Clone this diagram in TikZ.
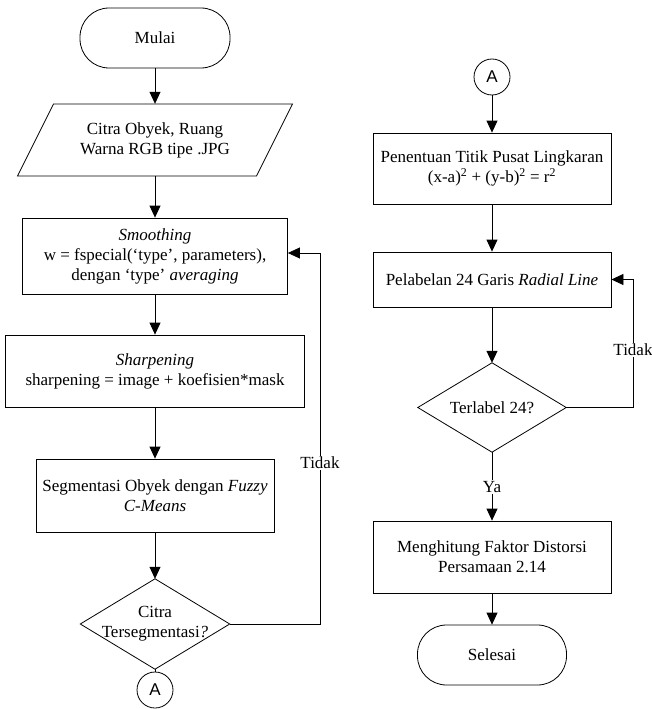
\documentclass[tikz,border=0pt]{standalone}
\usepackage{fontspec}
\setmainfont{Liberation Serif}
\newfontfamily\arialfont{Liberation Sans}
\usetikzlibrary{arrows.meta}
\begin{document}
\begin{tikzpicture}[x=1pt,y=-1pt,
  every node/.style={font=\fontsize{17}{20}\selectfont, align=center, inner sep=0pt},
  ln/.style={line width=0.8pt},
  arr/.style={line width=0.8pt, -{Triangle[length=12pt,width=11pt]}},
  box/.style={draw, line width=0.8pt},
  term/.style={draw, line width=0.8pt, rounded corners=29pt, minimum width=150pt, minimum height=60pt},
  conn/.style={draw, line width=0.8pt, circle, minimum size=36pt, font=\arialfont\fontsize{17}{20}\selectfont},
  lbl/.style={fill=white, inner sep=1.5pt}]
\useasboundingbox (0,0) rectangle (652,709);

% left column
\node[term] (start) at (155,38) {Mulai};
\node[minimum width=239pt, minimum height=72pt] (input) at (155,140) {Citra Obyek, Ruang\\Warna RGB tipe .JPG};
\draw[ln] (53.5,104) -- (292.5,104) -- (256.5,176) -- (17.5,176) -- cycle;
\node[box, minimum width=265pt, minimum height=76pt] (smooth) at (155,256) {\textit{Smoothing}\\w = fspecial(‘type’, parameters),\\dengan ‘type’ \textit{averaging}};
\node[box, minimum width=299pt, minimum height=72pt] (sharp) at (155,371) {\textit{Sharpening}\\sharpening = image + koefisien*mask};
\node[box, minimum width=238pt, minimum height=73pt] (seg) at (155,495.5) {Segmentasi Obyek dengan \textit{Fuzzy}\\\textit{C-Means}};
\node[minimum width=149pt, minimum height=90pt] (dec1) at (155,624) {Citra\\Tersegmentasi\textit{?}};
\draw[ln] (dec1.north) -- (dec1.east) -- (dec1.south) -- (dec1.west) -- cycle;
\node[conn] (A1) at (155,690) {A};

\draw[arr] (start) -- (input);
\draw[arr] (input) -- (smooth);
\draw[arr] (smooth) -- (sharp);
\draw[arr] (sharp) -- (seg);
\draw[arr] (seg) -- (dec1.north);
\draw[ln] (dec1.south) -- (A1);
\coordinate (loopL) at (320,253);
\draw[arr] (dec1.east) -| (loopL) -- (smooth.east |- loopL);
\node[lbl] (t1) at (320,463) {Tidak};

% right column
\node[conn] (A2) at (492,77) {A};
\node[box, minimum width=238pt, minimum height=71pt] (centre) at (492,168.5) {Penentuan Titik Pusat Lingkaran\\(x-a)\textsuperscript{2} + (y-b)\textsuperscript{2} = r\textsuperscript{2}};
\node[box, minimum width=238pt, minimum height=55pt] (labelbox) at (492,279.5) {Pelabelan 24 Garis \textit{Radial Line}};
\node[minimum width=148pt, minimum height=89pt] (dec2) at (492,407.5) {Terlabel 24?};
\draw[ln] (dec2.north) -- (dec2.east) -- (dec2.south) -- (dec2.west) -- cycle;
\node[box, minimum width=238pt, minimum height=72pt] (dist) at (492,557) {Menghitung Faktor Distorsi\\Persamaan 2.14};
\node[term, minimum width=149pt] (finish) at (492,655) {Selesai};

\draw[arr] (A2) -- (centre);
\draw[arr] (centre) -- (labelbox);
\draw[arr] (labelbox) -- (dec2.north);
\coordinate (loopR) at (633,279.5);
\draw[arr] (dec2.east) -| (loopR) -- (labelbox.east);
\node[lbl] (t2) at (633,350) {Tidak};
\draw[arr] (dec2.south) -- (dist);
\node[lbl] (ya) at (492,487) {Ya};
\draw[arr] (dist) -- (finish);
\end{tikzpicture}
\end{document}
